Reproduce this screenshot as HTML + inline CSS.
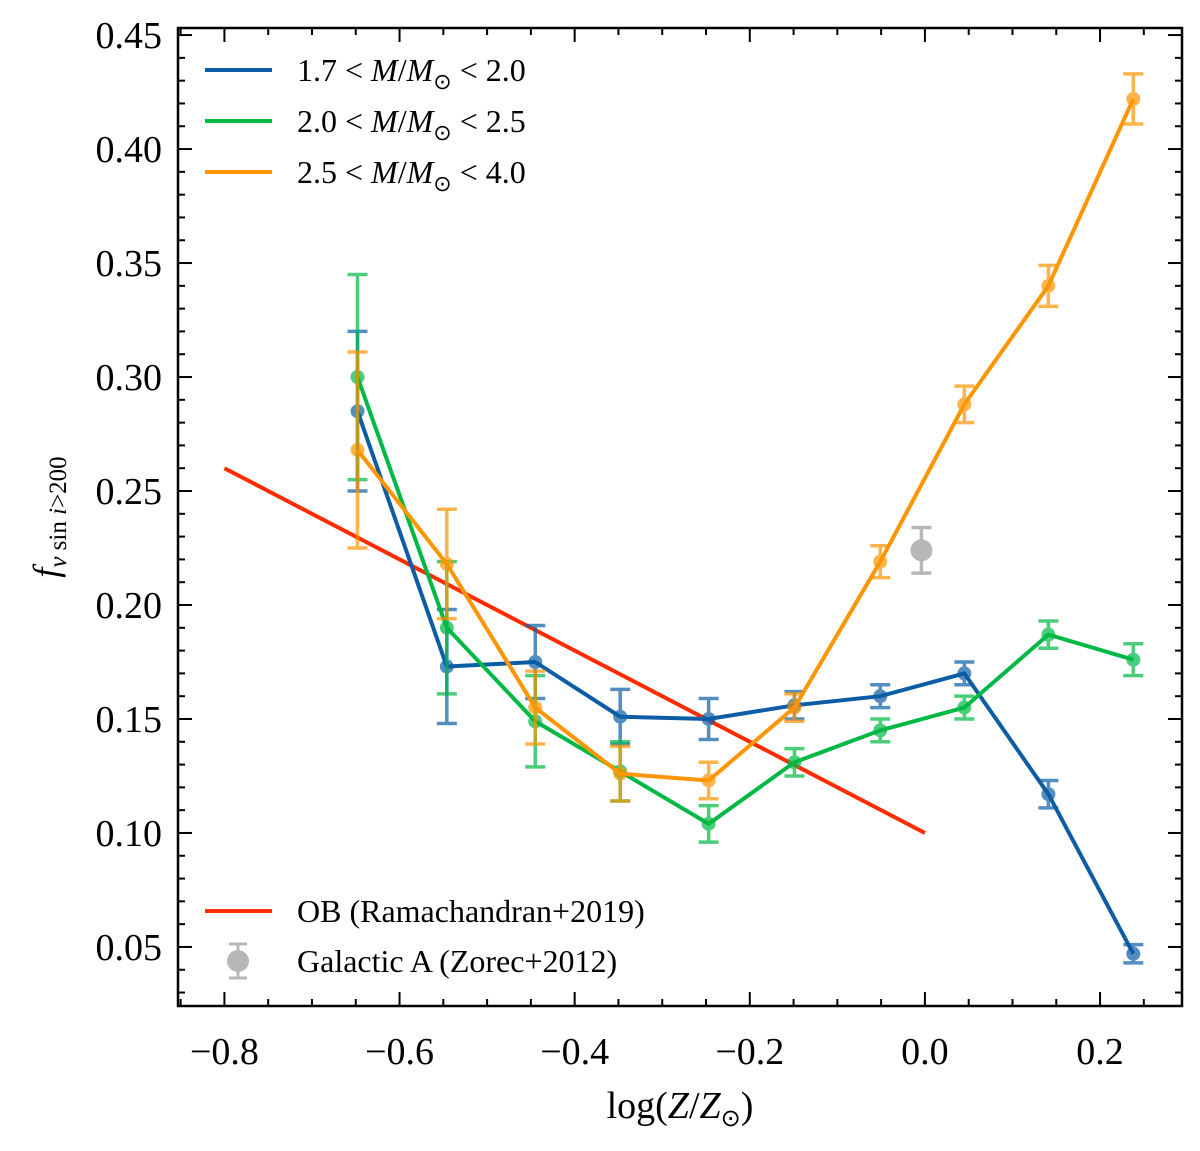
<!DOCTYPE html>
<html><head><meta charset="utf-8"><style>
body{margin:0;background:#fff}
text{font-family:"Liberation Serif",serif;fill:#000}
</style></head><body>
<svg id="chart" width="1200" height="1146" xmlns="http://www.w3.org/2000/svg">
<g id="grid"></g>
<g id="marks"></g>
<g id="axes"></g>
<g id="legend"></g>
</svg>
<script>
const xs = [-0.648,-0.546,-0.445,-0.348,-0.247,-0.149,-0.051,0.045,0.141,0.238];
const blueVals = [0.285,0.173,0.175,0.151,0.150,0.156,0.160,0.170,0.117,0.047];
const blueErr = [0.035,0.025,0.016,0.012,0.009,0.006,0.005,0.005,0.006,0.004];
const greenVals = [0.300,0.190,0.149,0.127,0.104,0.131,0.145,0.155,0.187,0.176];
const greenErr = [0.045,0.029,0.020,0.013,0.008,0.006,0.005,0.005,0.006,0.007];
const orangeVals = [0.268,0.218,0.155,0.126,0.123,0.155,0.219,0.288,0.340,0.422];
const orangeErr = [0.043,0.024,0.016,0.012,0.008,0.006,0.007,0.008,0.009,0.011];
const obX = [-0.8,0.0];
const obY = [0.26,0.10];
const galX = [-0.004];
const galY = [0.224];
const galErr = [0.010];
const xTicks = [-0.8,-0.6,-0.4,-0.2,0.0,0.2];
const xTickLabels = ["\u22120.8","\u22120.6","\u22120.4","\u22120.2","0.0","0.2"];
const yTicks = [0.05,0.10,0.15,0.20,0.25,0.30,0.35,0.40,0.45];
const yTickLabels = ["0.05","0.10","0.15","0.20","0.25","0.30","0.35","0.40","0.45"];

const L=178,R=1182,T=28,B=1006;
const XMIN=-0.853,XMAX=0.2936,YMIN=0.0241,YMAX=0.4531;
const sx=v=>L+(v-XMIN)/(XMAX-XMIN)*(R-L);
const sy=v=>B-(v-YMIN)/(YMAX-YMIN)*(B-T);
const NS="http://www.w3.org/2000/svg";
function mk(tag,attrs,parent){const e=document.createElementNS(NS,tag);for(const k in attrs)e.setAttribute(k,attrs[k]);parent.appendChild(e);return e;}
const marks=document.getElementById('marks'),axes=document.getElementById('axes'),leg=document.getElementById('legend');

let ob=mk('polyline',{points:obX.map((x,i)=>sx(x)+','+sy(obY[i])).join(' '),fill:'none',stroke:'#ff2c00','stroke-width':4},marks);



galX.forEach((x,i)=>{
  const g=mk('g',{opacity:0.6},marks);
  
  
  const cx=sx(x),y1=sy(galY[i]-galErr[i]),y2=sy(galY[i]+galErr[i]);
  mk('line',{x1:cx,x2:cx,y1:y1,y2:y2,stroke:'#888','stroke-width':3.5},g);
  mk('line',{x1:cx-10,x2:cx+10,y1:y1,y2:y1,stroke:'#888','stroke-width':3.5},g);
  mk('line',{x1:cx-10,x2:cx+10,y1:y2,y2:y2,stroke:'#888','stroke-width':3.5},g);
  mk('circle',{cx:cx,cy:sy(galY[i]),r:11,fill:'#888'},g);
});

function series(vals,errs,color,name){
  const g=mk('g',{},marks);
  
  
  const eb=mk('g',{opacity:0.7},g);
  vals.forEach((v,i)=>{
    const cx=sx(xs[i]),y1=sy(v-errs[i]),y2=sy(v+errs[i]);
    const e=mk('g',{},eb);
    
    
    mk('line',{x1:cx,x2:cx,y1:y1,y2:y2,stroke:color,'stroke-width':3.5},e);
    mk('line',{x1:cx-10,x2:cx+10,y1:y1,y2:y1,stroke:color,'stroke-width':3.5},e);
    mk('line',{x1:cx-10,x2:cx+10,y1:y2,y2:y2,stroke:color,'stroke-width':3.5},e);
    const c=mk('circle',{cx:cx,cy:sy(v),r:7,fill:color},e);
    
    
  });
  const l=mk('polyline',{points:vals.map((v,i)=>sx(xs[i])+','+sy(v)).join(' '),fill:'none',stroke:color,'stroke-width':4},g);
  
  
}
series(blueVals,blueErr,'#0c5da5','mass-1.7-2.0');
series(greenVals,greenErr,'#00b945','mass-2.0-2.5');
series(orangeVals,orangeErr,'#ff9500','mass-2.5-4.0');

const fr=mk('rect',{x:L,y:T,width:R-L,height:B-T,fill:'none',stroke:'#000','stroke-width':2.5},axes);


for(let v=-0.85;v<=0.3;v+=0.05){
  const vv=Math.round(v*100)/100; if(vv<XMIN||vv>XMAX)continue;
  const major=xTicks.some(t=>Math.abs(t-vv)<1e-6);const len=major?14:7;const x=sx(vv);
  mk('line',{x1:x,x2:x,y1:B,y2:B-len,stroke:'#000','stroke-width':2},axes);
  mk('line',{x1:x,x2:x,y1:T,y2:T+len,stroke:'#000','stroke-width':2},axes);
}
xTicks.forEach((t,i)=>{const tx=mk('text',{x:sx(t),y:B+58,'font-size':38,'text-anchor':'middle'},axes);tx.textContent=xTickLabels[i];
 
 });
for(let k=3;k<=45;k++){
  const v=k/100; if(v<YMIN||v>YMAX)continue;
  const major=k%5===0;const len=major?14:7;const y=sy(v);
  mk('line',{x1:L,x2:L+len,y1:y,y2:y,stroke:'#000','stroke-width':2},axes);
  mk('line',{x1:R,x2:R-len,y1:y,y2:y,stroke:'#000','stroke-width':2},axes);
}
yTicks.forEach((t,i)=>{const tx=mk('text',{x:L-16,y:sy(t)+13,'font-size':38,'text-anchor':'end'},axes);tx.textContent=yTickLabels[i];
 
 });
</script>
<svg style="position:absolute;left:0;top:0" width="1200" height="1146" xmlns="http://www.w3.org/2000/svg">
<text x="680" y="1118" font-size="38" text-anchor="middle">log(<tspan font-style="italic">Z</tspan>/<tspan font-style="italic">Z</tspan><tspan font-size="24" dy="8">⊙</tspan><tspan dy="-8">)</tspan></text>
<text transform="translate(58,517) rotate(-90)" font-size="36" text-anchor="middle"><tspan font-style="italic">f</tspan><tspan font-size="25" dy="8"><tspan font-style="italic">v</tspan> sin <tspan font-style="italic">i</tspan>&gt;200</tspan></text>
<g font-size="32">
<line x1="205" x2="272" y1="70" y2="70" stroke="#0c5da5" stroke-width="4"/>
<text x="297" y="81">1.7 &lt; <tspan font-style="italic">M</tspan>/<tspan font-style="italic">M</tspan><tspan font-size="22" dy="8">⊙</tspan><tspan dy="-8"> &lt; 2.0</tspan></text>
<line x1="205" x2="272" y1="121" y2="121" stroke="#00b945" stroke-width="4"/>
<text x="297" y="132">2.0 &lt; <tspan font-style="italic">M</tspan>/<tspan font-style="italic">M</tspan><tspan font-size="22" dy="8">⊙</tspan><tspan dy="-8"> &lt; 2.5</tspan></text>
<line x1="205" x2="272" y1="172" y2="172" stroke="#ff9500" stroke-width="4"/>
<text x="297" y="183">2.5 &lt; <tspan font-style="italic">M</tspan>/<tspan font-style="italic">M</tspan><tspan font-size="22" dy="8">⊙</tspan><tspan dy="-8"> &lt; 4.0</tspan></text>
</g>
<g font-size="32">
<line x1="205" x2="272" y1="911" y2="911" stroke="#ff2c00" stroke-width="4"/>
<text x="297" y="922">OB (Ramachandran+2019)</text>
<g opacity="0.6"><line x1="238" x2="238" y1="944" y2="978" stroke="#888" stroke-width="3"/><line x1="229" x2="247" y1="944" y2="944" stroke="#888" stroke-width="3"/><line x1="229" x2="247" y1="978" y2="978" stroke="#888" stroke-width="3"/><circle cx="238" cy="961" r="11" fill="#888"/></g>
<text x="297" y="972">Galactic A (Zorec+2012)</text>
</g>
</svg>
</body></html>
